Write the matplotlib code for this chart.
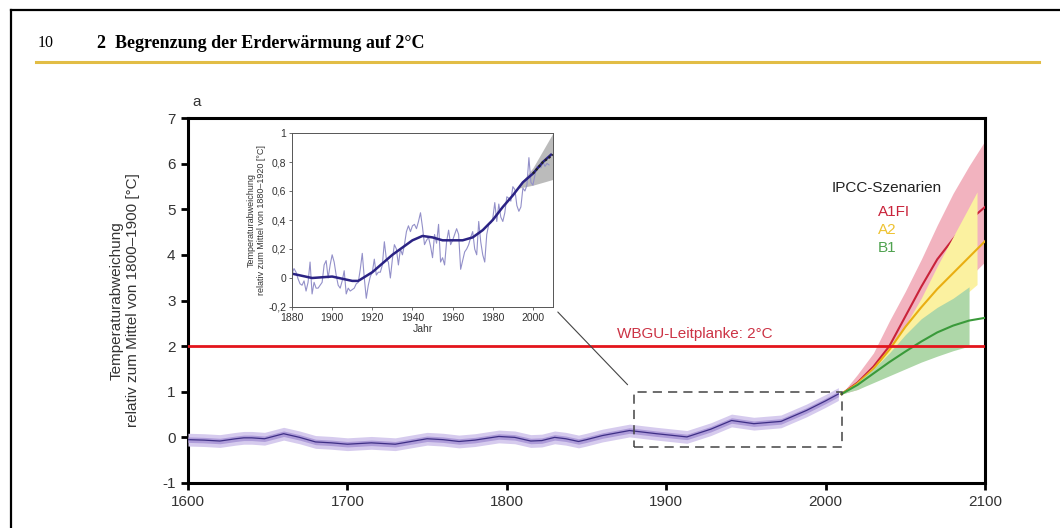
import matplotlib
matplotlib.use('Agg')
import matplotlib.pyplot as plt
from matplotlib.patches import Rectangle, ConnectionPatch
from matplotlib.lines import Line2D

plt.rcParams['font.family'] = ['Liberation Sans', 'DejaVu Sans']

# historische Rekonstruktion (Hauptdiagramm)
hist_years = [1600, 1610, 1620, 1630, 1635, 1640, 1648, 1660, 1670, 1680, 1690, 1700,
              1715, 1730, 1740, 1750, 1760, 1770, 1780, 1795, 1805, 1815, 1822, 1830,
              1837, 1845, 1850, 1860, 1877, 1894, 1913, 1928, 1941, 1955, 1972, 1988,
              2000, 2008]
hist_temp = [-0.05, -0.06, -0.08, -0.03, -0.01, -0.01, -0.03, 0.08, 0.0, -0.1, -0.12, -0.15,
             -0.12, -0.15, -0.09, -0.03, -0.05, -0.09, -0.06, 0.02, 0.0, -0.08, -0.07, 0.0,
             -0.03, -0.09, -0.05, 0.04, 0.15, 0.08, 0.01, 0.18, 0.37, 0.30, 0.35, 0.59,
             0.80, 0.95]

# IPCC-Szenarien
proj_years = [2010, 2020, 2030, 2040, 2050, 2060, 2070, 2080, 2090, 2100]
a1fi_mean = [0.95, 1.2, 1.55, 2.0, 2.65, 3.3, 3.9, 4.35, 4.75, 5.05]
a1fi_low = [0.95, 1.05, 1.25, 1.55, 1.9, 2.3, 2.7, 3.1, 3.5, 3.85]
a1fi_high = [0.95, 1.38, 1.85, 2.55, 3.2, 3.9, 4.65, 5.35, 5.95, 6.5]
a2_mean = [0.95, 1.18, 1.5, 1.92, 2.42, 2.85, 3.25, 3.6, 3.95, 4.3]
a2_band_years = [2010, 2020, 2030, 2040, 2050, 2060, 2070, 2080, 2090, 2095]
a2_low = [0.95, 1.1, 1.3, 1.55, 1.85, 2.15, 2.5, 2.85, 3.2, 3.35]
a2_high = [0.95, 1.22, 1.55, 1.95, 2.45, 3.05, 3.75, 4.4, 5.05, 5.38]
b1_mean = [0.95, 1.15, 1.4, 1.65, 1.88, 2.1, 2.3, 2.45, 2.56, 2.62]
b1_band_years = [2010, 2020, 2030, 2040, 2050, 2060, 2070, 2080, 2090]
b1_low = [0.95, 1.05, 1.2, 1.35, 1.5, 1.65, 1.78, 1.9, 2.0]
b1_high = [0.95, 1.2, 1.5, 1.85, 2.25, 2.6, 2.85, 3.05, 3.3]

guardrail = 2.0

# Inset: jaehrliche Werte 1880-2008
inset_years = list(range(1880, 2009))
inset_annual = [0.03, 0.065, 0.04, -0.005, -0.04, -0.05, -0.02, -0.09, -0.03, 0.11,
                -0.11, -0.03, -0.07, -0.07, -0.05, -0.03, 0.09, 0.12, 0.0, 0.09,
                0.16, 0.11, 0.02, -0.05, -0.07, -0.02, 0.05, -0.11, -0.07, -0.09,
                -0.08, -0.07, -0.04, -0.03, 0.06, 0.17, 0.0, -0.14, -0.05, 0.01,
                0.04, 0.13, 0.02, 0.04, 0.04, 0.09, 0.25, 0.13, 0.11, 0.0,
                0.13, 0.23, 0.2, 0.09, 0.2, 0.16, 0.23, 0.32, 0.36, 0.32,
                0.36, 0.37, 0.34, 0.39, 0.45, 0.35, 0.23, 0.26, 0.28, 0.22,
                0.14, 0.30, 0.24, 0.37, 0.11, 0.14, 0.09, 0.25, 0.33, 0.23,
                0.26, 0.30, 0.34, 0.30, 0.06, 0.12, 0.18, 0.20, 0.23, 0.28,
                0.32, 0.20, 0.16, 0.39, 0.25, 0.16, 0.11, 0.30, 0.37, 0.38,
                0.41, 0.52, 0.39, 0.51, 0.42, 0.39, 0.45, 0.56, 0.55, 0.53,
                0.63, 0.61, 0.50, 0.46, 0.49, 0.62, 0.60, 0.64, 0.83, 0.66,
                0.64, 0.71, 0.77, 0.77, 0.76, 0.80, 0.77, 0.79, 0.78]
smooth_years = [1880, 1890, 1900, 1910, 1913, 1920, 1930, 1940, 1945, 1950, 1955,
                1960, 1965, 1970, 1975, 1980, 1985, 1990, 1995, 2000, 2005, 2009]
smooth_temp = [0.03, 0.0, 0.01, -0.02, -0.02, 0.04, 0.16, 0.26, 0.29, 0.28, 0.26,
               0.26, 0.26, 0.28, 0.33, 0.40, 0.49, 0.57, 0.66, 0.72, 0.80, 0.85]
trend_years = [1993, 2000, 2005, 2010]
trend_low = [0.62, 0.64, 0.66, 0.68]
trend_high = [0.64, 0.76, 0.88, 1.0]

fig = plt.figure(figsize=(10.6, 5.28), dpi=100)

# Seitenrahmen und Kopfzeile
fig.add_artist(Line2D([11 / 1060, 11 / 1060], [0, 1 - 10 / 528], color='black', lw=1.6))
fig.add_artist(Line2D([11 / 1060, 1], [1 - 10 / 528, 1 - 10 / 528], color='black', lw=1.6))
fig.add_artist(Line2D([36 / 1060, 1039 / 1060], [1 - 62 / 528, 1 - 62 / 528],
                      color='#e2bd45', lw=2.2))
fig.text(38 / 1060, 1 - 43 / 528, '10', family='Liberation Serif', fontsize=11.5,
         va='center', ha='left')
fig.text(97 / 1060, 1 - 43 / 528, '2  Begrenzung der Erderwärmung auf 2°C',
         family='Liberation Serif', fontweight='bold', fontsize=13, va='center', ha='left')

ax = fig.add_axes([188 / 1060, 45 / 528, 797 / 1060, 365 / 528])
ax.set_xlim(1600, 2100)
ax.set_ylim(-1, 7)

# Szenarien
ax.fill_between(proj_years, a1fi_low, a1fi_high, color='#f2b3bf', lw=0, zorder=2)
ax.plot(proj_years, a1fi_mean, color='#c9233a', lw=1.5, zorder=3)
ax.fill_between(a2_band_years, a2_low, a2_high, color='#fbf1a0', lw=0, zorder=4)
ax.plot(proj_years, a2_mean, color='#e9ae12', lw=1.5, zorder=5)
ax.fill_between(b1_band_years, b1_low, b1_high, color='#aed7a8', lw=0, zorder=6)
ax.plot(proj_years, b1_mean, color='#3a9a3a', lw=1.5, zorder=7)

# Leitplanke
ax.axhline(guardrail, color='#e3151c', lw=2.0, zorder=8)
ax.text(1918, guardrail + 0.12, 'WBGU-Leitplanke: 2°C', color='#cc3345', fontsize=11,
        ha='center', va='bottom')

# historische Kurve mit Unsicherheitsband
hist_outer_low = [v - 0.14 for v in hist_temp]
hist_outer_high = [v + 0.14 for v in hist_temp]
hist_inner_low = [v - 0.06 for v in hist_temp]
hist_inner_high = [v + 0.06 for v in hist_temp]
ax.fill_between(hist_years, hist_outer_low, hist_outer_high, color='#d6cbee', lw=0, zorder=9)
ax.fill_between(hist_years, hist_inner_low, hist_inner_high, color='#ae9cd9', lw=0, zorder=10)
ax.plot(hist_years, hist_temp, color='#3e2f86', lw=0.9, zorder=11)

# gestrichelter Ausschnitt
zoom_box = Rectangle((1880, -0.2), 130, 1.2, fill=False, ls=(0, (6, 4)),
                     ec='#444444', lw=1.1, zorder=12)
ax.add_patch(zoom_box)

ax.text(2038.5, 5.47, 'IPCC-Szenarien', fontsize=11, color='#222222', ha='center', va='center')
ax.text(2033, 4.94, 'A1FI', fontsize=11, color='#c9233a', ha='left', va='center')
ax.text(2033, 4.54, 'A2', fontsize=11, color='#eec230', ha='left', va='center')
ax.text(2033, 4.14, 'B1', fontsize=11, color='#4fa24f', ha='left', va='center')

ax.set_xticks([1600, 1700, 1800, 1900, 2000, 2100])
ax.set_yticks(range(-1, 8))
ax.set_yticklabels([str(v) for v in range(-1, 8)])
ax.tick_params(direction='out', length=5, width=2, labelsize=11, labelcolor='#333333', pad=4)
for s in ax.spines.values():
    s.set_linewidth(2.2)
ax.set_ylabel('Temperaturabweichung\nrelativ zum Mittel von 1800–1900 [°C]', fontsize=11,
              color='#333333', labelpad=16, linespacing=1.2)
ax.text(0.006, 1.025, 'a', transform=ax.transAxes, fontsize=11, color='#333333',
        ha='left', va='bottom')

# Inset
ins = fig.add_axes([292 / 1060, 221 / 528, 261 / 1060, 174 / 528])
ins.set_xlim(1880, 2010)
ins.set_ylim(-0.2, 1.0)
ins.fill_between(trend_years, trend_low, trend_high, color='#b0b0b0', alpha=0.85, lw=0)
ins.plot(inset_years, inset_annual, color='#9390c9', lw=0.8)
ins.plot(smooth_years, smooth_temp, color='#2b2384', lw=1.8)
ins.plot(trend_years[1:], smooth_temp[-3:], color='#222222', lw=1.6, ls=(0, (1, 1)))
ins.set_xticks(range(1880, 2001, 20))
ins.set_yticks([-0.2, 0, 0.2, 0.4, 0.6, 0.8, 1.0])
ins.set_yticklabels(['-0,2', '0', '0,2', '0,4', '0,6', '0,8', '1'])
ins.tick_params(direction='out', length=2.5, width=0.6, labelsize=7.5, pad=1.5,
                labelcolor='#333333', color='#555555')
for s in ins.spines.values():
    s.set_linewidth(0.7)
    s.set_color('#555555')
ins.set_xlabel('Jahr', fontsize=7.5, labelpad=1, color='#333333')
ins.set_ylabel('Temperaturabweichung\nrelativ zum Mittel von 1880–1920 [°C]', fontsize=6.5,
               labelpad=2, color='#333333', linespacing=1.1)

con = ConnectionPatch(xyA=(1, 0), coordsA=ins.transAxes, xyB=(1880, 1.0), coordsB=ax.transData,
                      color='#444444', lw=0.8, shrinkA=5, shrinkB=7)
fig.add_artist(con)

fig.savefig('out.png', dpi=100)
